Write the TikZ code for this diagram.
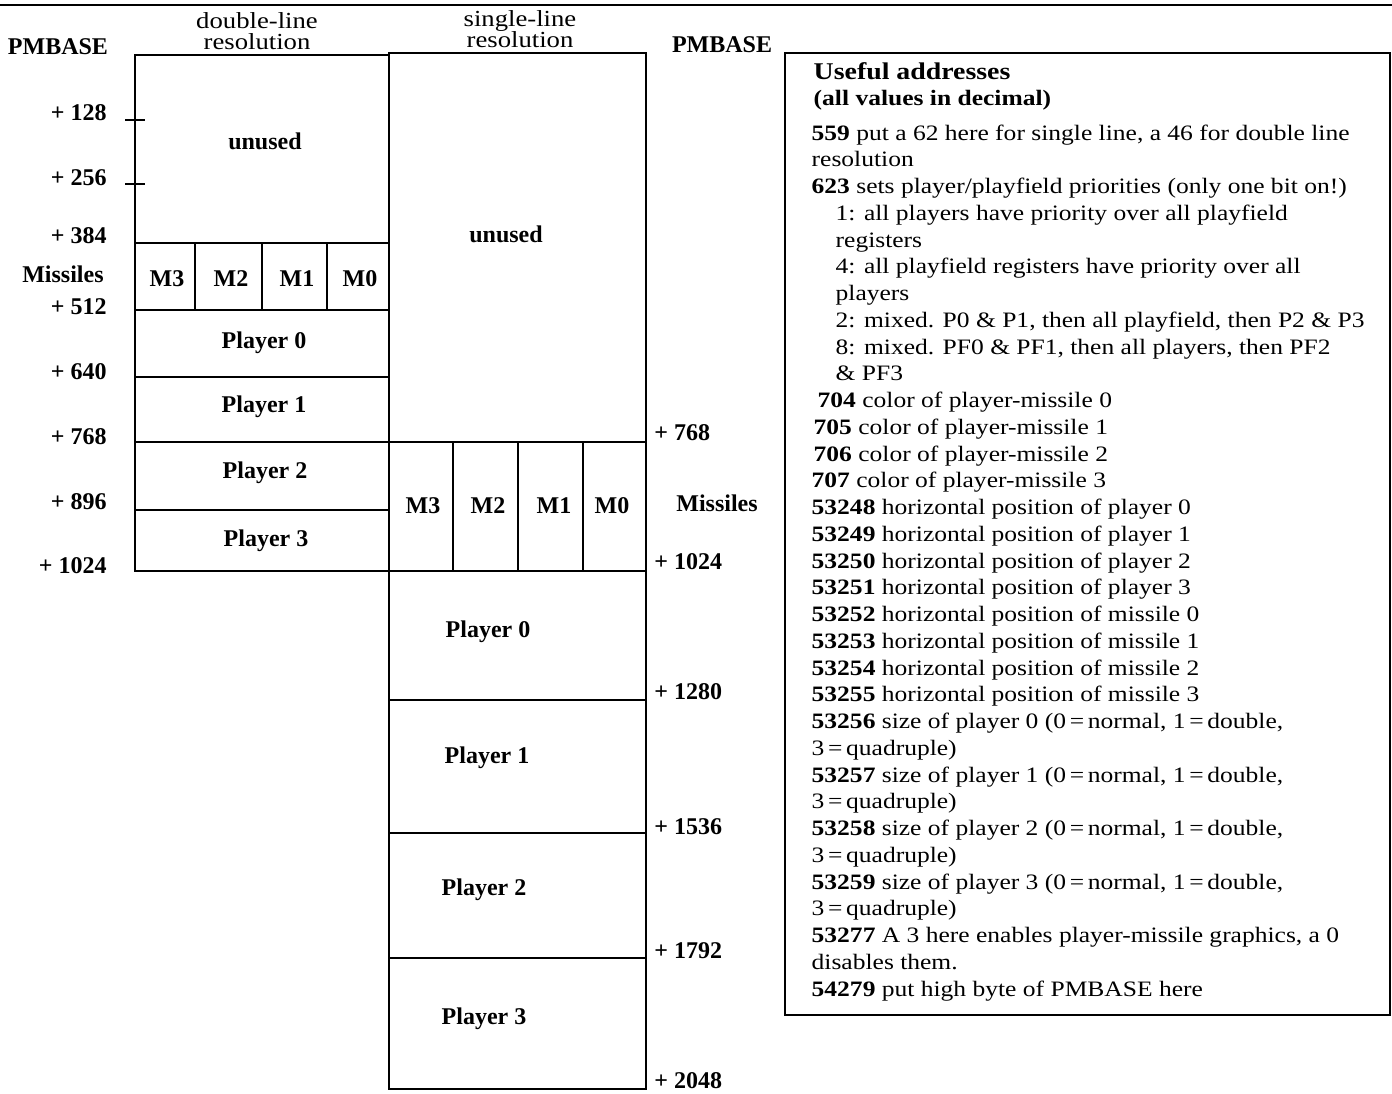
\documentclass[tikz,border=0pt]{standalone}
\usepackage{fontspec}
\setmainfont{Liberation Serif}
\newfontfamily\widefont[FakeStretch=1.16]{Liberation Serif}
\usetikzlibrary{positioning}

\begin{document}
\begin{tikzpicture}[x=0.5pt, y=-0.5pt, line width=0.7pt,
  celltext/.style={font=\fontsize{12}{14}\selectfont\bfseries},
  offlbl/.style={font=\fontsize{12}{14}\selectfont\bfseries},
  headtext/.style={font=\widefont\fontsize{11.5}{10.5}\selectfont, align=center},
  addrtext/.style={font=\widefont\fontsize{11}{13.375}\selectfont, align=left, inner sep=0pt}]
  \useasboundingbox (0,0) rectangle (1392,1093);
  \draw[line width=1pt] (0,5) -- (1392,5);

  % double-line resolution: 128 bytes a player
  \draw (135,55) rectangle (389,571);
  \foreach \yy in {243,310,377,442,510} \draw (135,\yy) -- (389,\yy);
  \foreach \xx in {195,262,327} \draw (\xx,243) -- (\xx,310);
  \draw (125,120) -- (145,120);
  \draw (125,184) -- (145,184);

  % single-line resolution: 256 bytes a player
  \draw (389,53) rectangle (646,1089);
  \foreach \yy in {442,571,700,833,958} \draw (389,\yy) -- (646,\yy);
  \foreach \xx in {453,518,583} \draw (\xx,442) -- (\xx,571);

  \node[headtext] (hdbl) at (257,31) {double-line\\resolution};
  \node[headtext] (hsgl) at (520,29) {single-line\\resolution};
  \node[offlbl] (pmL) at (58,47) {PMBASE};
  \node[offlbl] (pmR) at (722,45) {PMBASE};

  % offsets on the left
  \foreach \yy/\t/\n in {113/128/lA, 178/256/lB, 236/384/lC, 307/512/lD,
                         372/640/lE, 437/768/lF, 502/896/lG, 566/1024/lH}
    \node[offlbl, anchor=east] (\n) at (114,\yy) {+ \t};
  \node[offlbl, anchor=east] (misL) at (111,274) {Missiles};

  % offsets on the right
  \foreach \yy/\t/\n in {433/768/rA, 562/1024/rB, 692/1280/rC,
                         827/1536/rD, 951/1792/rE, 1081/2048/rF}
    \node[offlbl, anchor=west] (\n) at (647,\yy) {+ \t};
  \node[offlbl] (misR) at (717,503) {Missiles};

  % cell labels, double-line
  \node[celltext] (dUnused) at (265,141) {unused};
  \node[celltext] (dM3) at (167,279) {M3};
  \node[celltext] (dM2) at (231,279) {M2};
  \node[celltext] (dM1) at (297,279) {M1};
  \node[celltext] (dM0) at (360,279) {M0};
  \node[celltext] (dP0) at (264,343) {Player 0};
  \node[celltext] (dP1) at (264,407) {Player 1};
  \node[celltext] (dP2) at (265,473) {Player 2};
  \node[celltext] (dP3) at (266,541) {Player 3};

  % cell labels, single-line
  \node[celltext] (sUnused) at (506,234) {unused};
  \node[celltext] (sM3) at (423,506) {M3};
  \node[celltext] (sM2) at (488,506) {M2};
  \node[celltext] (sM1) at (554,506) {M1};
  \node[celltext] (sM0) at (612,506) {M0};
  \node[celltext] (sP0) at (488,632) {Player 0};
  \node[celltext] (sP1) at (487,758) {Player 1};
  \node[celltext] (sP2) at (484,890) {Player 2};
  \node[celltext] (sP3) at (484,1019) {Player 3};

  % address list
  \draw (785,53) rectangle (1390,1015);
  \node[addrtext, font=\widefont\fontsize{11}{13}\selectfont\bfseries, anchor=north west] (addrHead) at (813,62)
    {{\fontsize{12}{13}\selectfont Useful addresses}\\(all values in decimal)};
  \node[addrtext, anchor=north west] (addrList) at (811,124) {%
    \textbf{559} put a 62 here for single line, a 46 for double line\\
    resolution\\
    \textbf{623} sets player/playfield priorities (only one bit on!)\\
    \hspace*{12pt}1: all players have priority over all playfield\\
    \hspace*{12pt}registers\\
    \hspace*{12pt}4: all playfield registers have priority over all\\
    \hspace*{12pt}players\\
    \hspace*{12pt}2: mixed. P0 \& P1, then all playfield, then P2 \& P3\\
    \hspace*{12pt}8: mixed. PF0 \& PF1, then all players, then PF2\\
    \hspace*{12pt}\& PF3\\
    \hspace*{3pt}\textbf{704} color of player-missile 0\\
    \hspace*{1pt}\textbf{705} color of player-missile 1\\
    \hspace*{1pt}\textbf{706} color of player-missile 2\\
    \textbf{707} color of player-missile 3\\
    \textbf{53248} horizontal position of player 0\\
    \textbf{53249} horizontal position of player 1\\
    \textbf{53250} horizontal position of player 2\\
    \textbf{53251} horizontal position of player 3\\
    \textbf{53252} horizontal position of missile 0\\
    \textbf{53253} horizontal position of missile 1\\
    \textbf{53254} horizontal position of missile 2\\
    \textbf{53255} horizontal position of missile 3\\
    \textbf{53256} size of player 0 (0\,=\,normal, 1\,=\,double,\\
    3\,=\,quadruple)\\
    \textbf{53257} size of player 1 (0\,=\,normal, 1\,=\,double,\\
    3\,=\,quadruple)\\
    \textbf{53258} size of player 2 (0\,=\,normal, 1\,=\,double,\\
    3\,=\,quadruple)\\
    \textbf{53259} size of player 3 (0\,=\,normal, 1\,=\,double,\\
    3\,=\,quadruple)\\
    \textbf{53277} A 3 here enables player-missile graphics, a 0\\
    disables them.\\
    \textbf{54279} put high byte of PMBASE here};
\end{tikzpicture}
\end{document}
